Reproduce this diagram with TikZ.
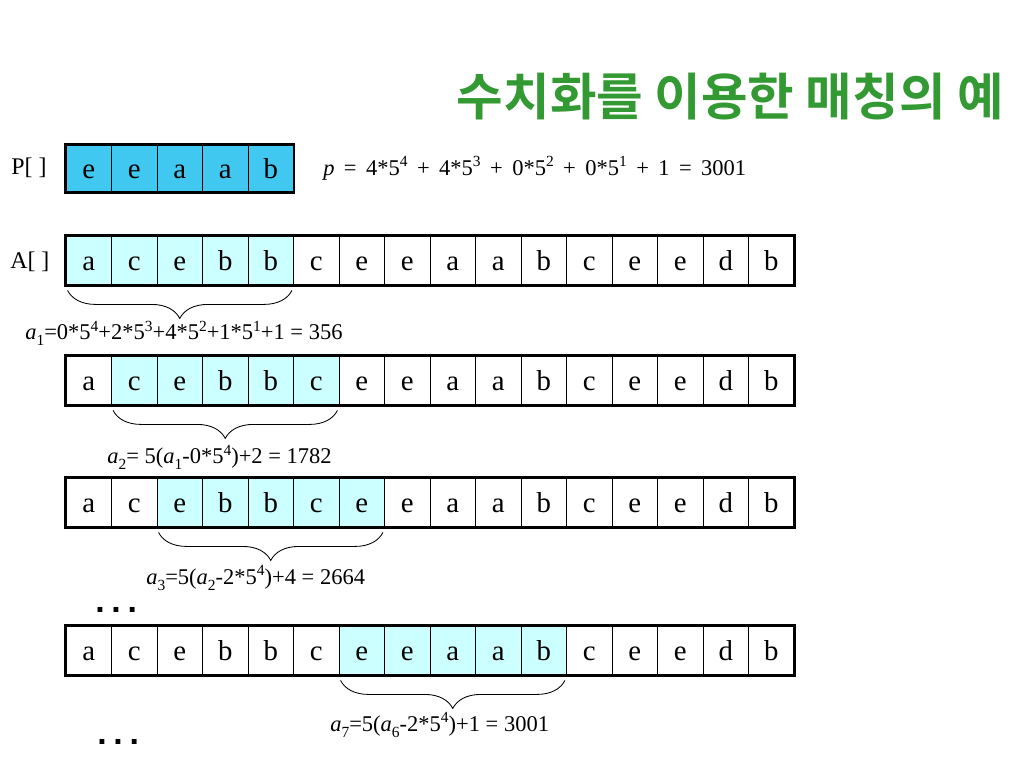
\documentclass[tikz,border=0pt]{standalone}
\usepackage{fontspec}
\setmainfont{Liberation Serif}
\newfontfamily\krfont{Noto Sans CJK KR}[BoldFont={Noto Sans CJK KR Bold}]
\newfontfamily\dotfont{Liberation Sans}
\usepackage{tikz}
\usetikzlibrary{decorations.pathreplacing,calc}

\definecolor{pblue}{RGB}{64,200,240}
\definecolor{lcyan}{RGB}{204,255,255}
\definecolor{tgreen}{RGB}{51,153,51}

\newcommand{\sps}[1]{\raisebox{0.38em}{\fontsize{11}{11}\selectfont #1}}
\newcommand{\sbs}[1]{\raisebox{-0.25em}{\fontsize{11}{11}\selectfont #1}}

\begin{document}
\begin{tikzpicture}[x=0.025cm, y=-0.025cm,
		cell/.style={draw, line width=0.6pt, inner sep=0pt, minimum width=45.5*0.025cm, minimum height=49*0.025cm,
			font=\fontsize{20.5}{20.5}\selectfont, text height=14.6pt, text depth=0pt},
		outer/.style={line width=2pt},
		brc/.style={decorate, decoration={brace, mirror, amplitude=0.7cm}, line width=0.6pt},
		frm/.style={font=\fontsize{16}{16}\selectfont, anchor=west, inner sep=0pt},
		lbl/.style={font=\fontsize{17}{17}\selectfont, anchor=west, inner sep=0pt},
		dots/.style={font=\dotfont\bfseries\fontsize{24}{24}\selectfont, anchor=west, inner sep=0pt}]
		\def\cw{45.5}
		\useasboundingbox (0,0) rectangle (1024,768);
		% title
		\node[text=tgreen, font=\krfont\bfseries\fontsize{36}{36}\selectfont, anchor=east, inner sep=0pt] (title) at (1004,97) {수치화를 이용한 매칭의 예};
		% pattern
		\node[lbl] (plbl) at (11,168) {P[ ]};
		\foreach \ch [count=\i] in {e,e,a,a,b}
			\node[cell, fill=pblue, minimum height=47*0.025cm] (P\i) at ({66+\cw*(\i-0.5)},168.5) {\ch};
		\draw[outer] (P1.north west) rectangle (P5.south east);
		\node[frm] (pval) at (323,168) {\spaceskip=0.42em \textit{p} = 4*5\sps{4} + 4*5\sps{3} + 0*5\sps{2} + 0*5\sps{1} + 1 = 3001};
		% text rows
		\node[lbl] (albl) at (10,262) {A[ ]};
		\foreach \r/\y/\s in {1/260.5/1, 2/380.5/2, 3/502.5/3, 4/650.5/7} {
			\foreach \ch [count=\i] in {a,c,e,b,b,c,e,e,a,a,b,c,e,e,d,b} {
				\pgfmathtruncatemacro{\hl}{(\i>=\s)&&(\i<=\s+4)}
				\def\cf{white}
				\ifnum\hl=1 \def\cf{lcyan}\fi
				\node[cell, fill=\cf] (A\r-\i) at ({66+\cw*(\i-0.5)},\y) {\ch};
			}
			\draw[outer] (A\r-1.north west) rectangle (A\r-16.south east);
			\pgfmathtruncatemacro{\e}{\s+4}
			\draw[brc] ($(A\r-\s.south west)+(2,5)$) -- ($(A\r-\e.south east)+(-2,5)$);
		}
		% hash values
		\node[frm] (f1) at (25,333) {\textit{a}\sbs{1}=0*5\sps{4}+2*5\sps{3}+4*5\sps{2}+1*5\sps{1}+1 = 356};
		\node[frm] (f2) at (107,457) {\textit{a}\sbs{2}= 5(\textit{a}\sbs{1}-0*5\sps{4})+2 = 1782};
		\node[frm] (f3) at (146,578) {\textit{a}\sbs{3}=5(\textit{a}\sbs{2}-2*5\sps{4})+4 = 2664};
		\node[frm] (f7) at (330,725) {\textit{a}\sbs{7}=5(\textit{a}\sbs{6}-2*5\sps{4})+1 = 3001};
		% dots
		\node[dots] (d1) at (95,610) {.\hspace{0.2em}.\hspace{0.2em}.};
		\node[dots] (d2) at (97,742) {.\hspace{0.2em}.\hspace{0.2em}.};
	\end{tikzpicture}
\end{document}
